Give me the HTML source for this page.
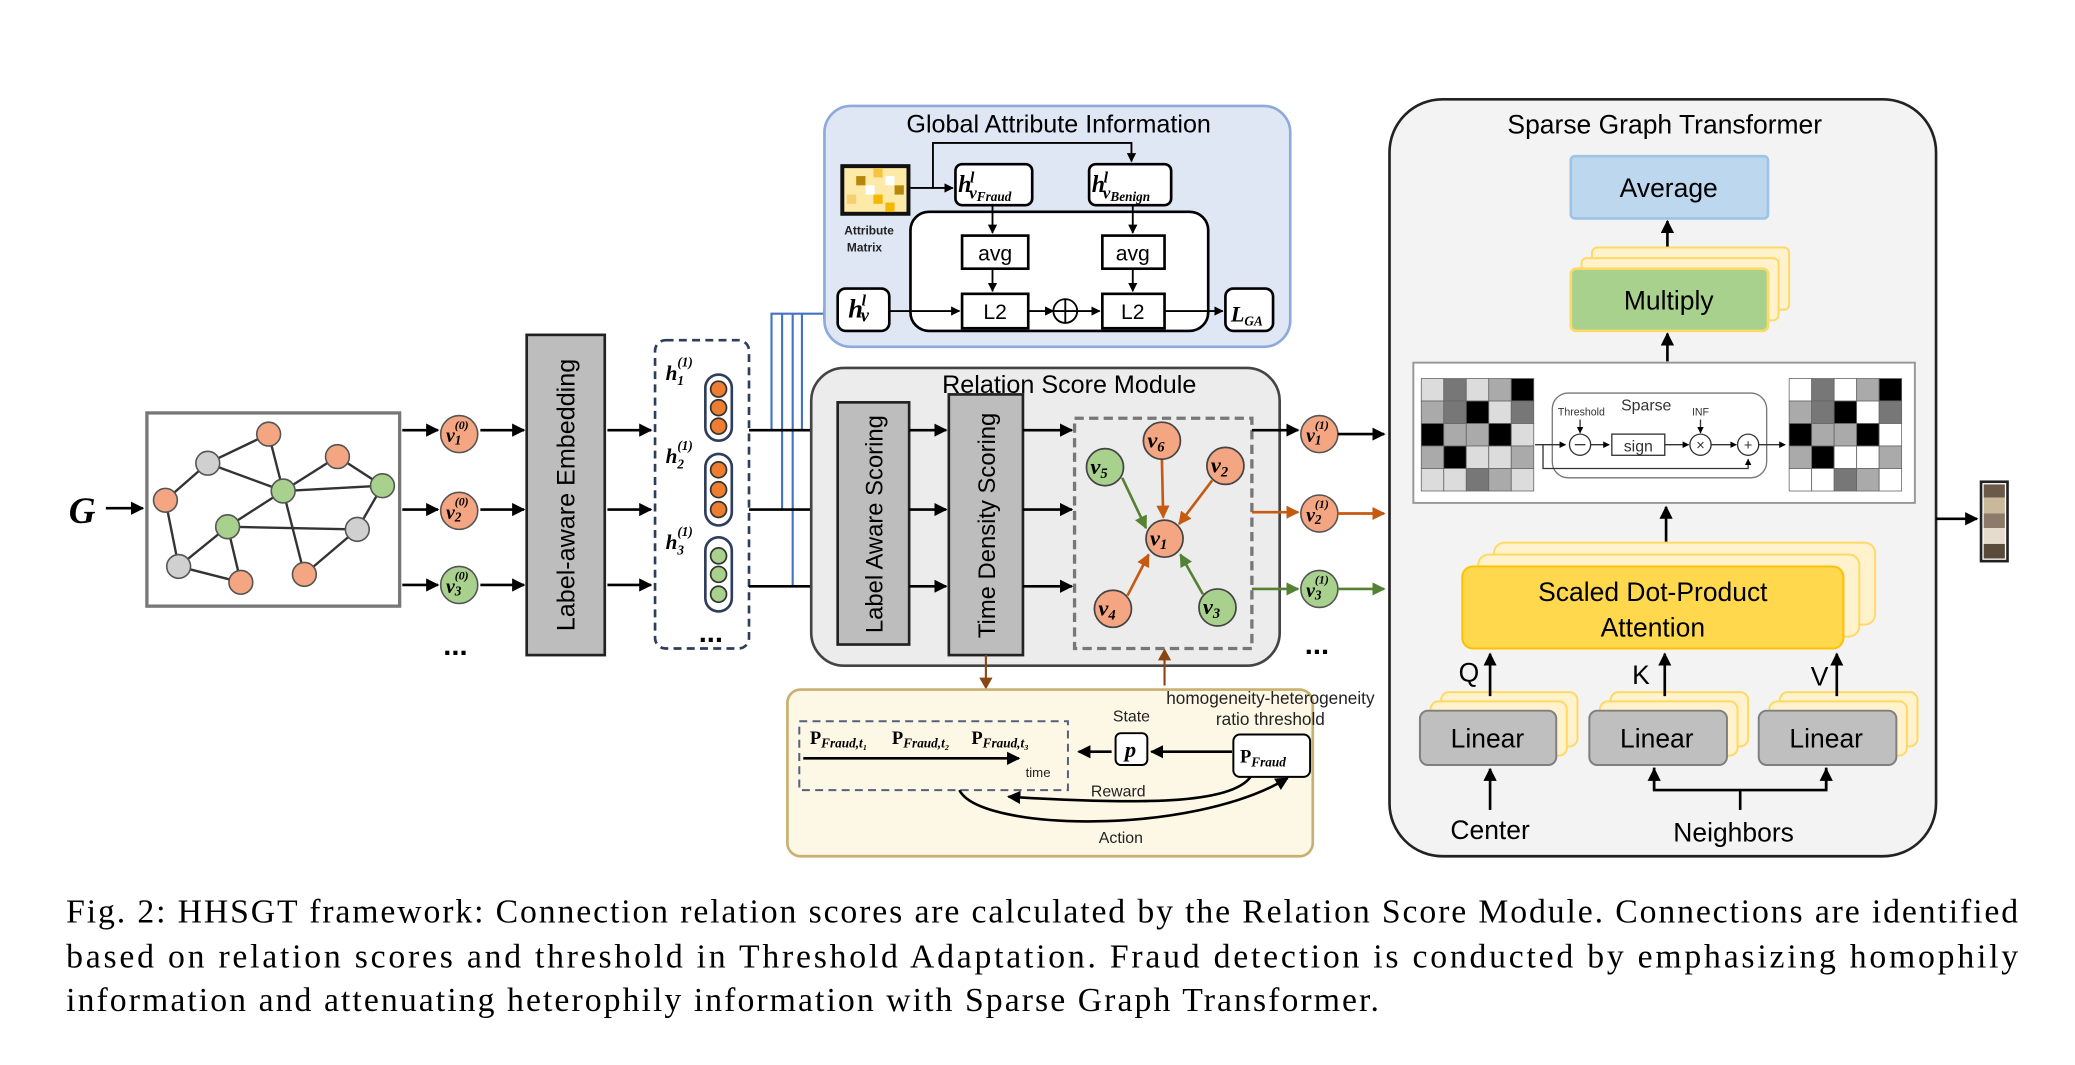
<!DOCTYPE html>
<html><head><meta charset="utf-8"><style>html,body{margin:0;padding:0;background:#fff}svg{display:block}</style></head><body>
<svg width="2075" height="1065" viewBox="0 0 1568 804.7" xmlns="http://www.w3.org/2000/svg" font-family="Liberation Sans, sans-serif">
<defs>
<marker id="a" viewBox="0 0 10 10" refX="9" refY="5" markerWidth="5" markerHeight="5" orient="auto"><path d="M0,0L10,5L0,10z" fill="#000"/></marker>
<marker id="ao" viewBox="0 0 10 10" refX="9" refY="5" markerWidth="5" markerHeight="5" orient="auto"><path d="M0,0L10,5L0,10z" fill="#c55a11"/></marker>
<marker id="ag" viewBox="0 0 10 10" refX="9" refY="5" markerWidth="5" markerHeight="5" orient="auto"><path d="M0,0L10,5L0,10z" fill="#548235"/></marker>
<marker id="ab" viewBox="0 0 10 10" refX="9" refY="5" markerWidth="5" markerHeight="5" orient="auto"><path d="M0,0L10,5L0,10z" fill="#4472c4"/></marker>
</defs>
<g stroke="#000" stroke-width="2" fill="none">
<text x="52" y="395" font-family="Liberation Serif, serif" font-size="28" font-weight="bold" font-style="italic" fill="#000" stroke="none">G</text>
<line x1="80" y1="384" x2="108" y2="384" marker-end="url(#a)"/>
<rect x="111" y="312" width="191" height="146" stroke="#777" stroke-width="2.5"/>
<g stroke="#333" stroke-width="1.8">
<line x1="125" y1="378" x2="157" y2="350"/><line x1="157" y1="350" x2="203" y2="328"/><line x1="157" y1="350" x2="214" y2="371"/><line x1="203" y1="328" x2="214" y2="371"/><line x1="214" y1="371" x2="255" y2="345"/><line x1="214" y1="371" x2="289" y2="367"/><line x1="214" y1="371" x2="172" y2="398"/><line x1="214" y1="371" x2="230" y2="434"/><line x1="125" y1="378" x2="135" y2="428"/><line x1="135" y1="428" x2="172" y2="398"/><line x1="172" y1="398" x2="182" y2="440"/><line x1="172" y1="398" x2="270" y2="400"/><line x1="270" y1="400" x2="289" y2="367"/><line x1="270" y1="400" x2="230" y2="434"/><line x1="255" y1="345" x2="289" y2="367"/><line x1="135" y1="428" x2="182" y2="440"/>
</g>
<g stroke="#555" stroke-width="1.2">
<circle cx="203" cy="328" r="9" fill="#f4a582"/><circle cx="255" cy="345" r="9" fill="#f4a582"/><circle cx="125" cy="378" r="9" fill="#f4a582"/><circle cx="182" cy="440" r="9" fill="#f4a582"/><circle cx="230" cy="434" r="9" fill="#f4a582"/>
<circle cx="214" cy="371" r="9" fill="#a9d18e"/><circle cx="289" cy="367" r="9" fill="#a9d18e"/><circle cx="172" cy="398" r="9" fill="#a9d18e"/>
<circle cx="157" cy="350" r="9" fill="#d0d0d0"/><circle cx="135" cy="428" r="9" fill="#d0d0d0"/><circle cx="270" cy="400" r="9" fill="#d0d0d0"/>
</g>
<line x1="304" y1="325" x2="331" y2="325" marker-end="url(#a)"/><line x1="304" y1="385" x2="331" y2="385" marker-end="url(#a)"/><line x1="304" y1="442" x2="331" y2="442" marker-end="url(#a)"/>
<circle cx="347" cy="328" r="14" fill="#f4a582" stroke="#555" stroke-width="1.2"/><circle cx="347" cy="386" r="14" fill="#f4a582" stroke="#555" stroke-width="1.2"/><circle cx="347" cy="442" r="14" fill="#a9d18e" stroke="#555" stroke-width="1.2"/>
<g font-family="Liberation Serif, serif" font-style="italic" font-weight="bold" fill="#000" stroke="none" font-size="15">
<text x="337" y="334">v<tspan font-size="10" dy="2">1</tspan><tspan font-size="9" dy="-12" dx="-5">(0)</tspan></text>
<text x="337" y="392">v<tspan font-size="10" dy="2">2</tspan><tspan font-size="9" dy="-12" dx="-5">(0)</tspan></text>
<text x="337" y="448">v<tspan font-size="10" dy="2">3</tspan><tspan font-size="9" dy="-12" dx="-5">(0)</tspan></text>
</g>
<text x="335" y="495" font-size="22" fill="#000" stroke="none" font-weight="bold">...</text>
<line x1="363" y1="325" x2="396" y2="325" marker-end="url(#a)"/><line x1="363" y1="385" x2="396" y2="385" marker-end="url(#a)"/><line x1="363" y1="442" x2="396" y2="442" marker-end="url(#a)"/>
<rect x="398" y="253" width="59" height="242" fill="#bdbdbd" stroke="#222"/>
<text transform="translate(434,374) rotate(-90)" text-anchor="middle" font-size="19" fill="#000" stroke="none">Label-aware Embedding</text>
<line x1="459" y1="325" x2="492" y2="325" marker-end="url(#a)"/><line x1="459" y1="385" x2="492" y2="385" marker-end="url(#a)"/><line x1="459" y1="442" x2="492" y2="442" marker-end="url(#a)"/>
<rect x="495" y="257" width="71" height="233" rx="8" stroke="#2f3d5c" stroke-dasharray="6,4"/>
<g stroke="#2f3d5c" stroke-width="2">
<rect x="533" y="283" width="20" height="50" rx="10" fill="#fff"/><rect x="533" y="343" width="20" height="54" rx="10" fill="#fff"/><rect x="533" y="406" width="20" height="56" rx="10" fill="#fff"/>
</g>
<g stroke="#333" stroke-width="1.3">
<circle cx="543" cy="294" r="6" fill="#ed7d31"/><circle cx="543" cy="308" r="6" fill="#ed7d31"/><circle cx="543" cy="322" r="6" fill="#ed7d31"/>
<circle cx="543" cy="355" r="6" fill="#ed7d31"/><circle cx="543" cy="370" r="6" fill="#ed7d31"/><circle cx="543" cy="385" r="6" fill="#ed7d31"/>
<circle cx="543" cy="420" r="6" fill="#a9d18e"/><circle cx="543" cy="434" r="6" fill="#a9d18e"/><circle cx="543" cy="449" r="6" fill="#a9d18e"/>
</g>
<g font-family="Liberation Serif, serif" font-style="italic" font-weight="bold" fill="#000" stroke="none" font-size="16">
<text x="503" y="287">h<tspan font-size="10" dy="4">1</tspan><tspan font-size="10" dy="-14" dx="-5">(1)</tspan></text>
<text x="503" y="350">h<tspan font-size="10" dy="4">2</tspan><tspan font-size="10" dy="-14" dx="-5">(1)</tspan></text>
<text x="503" y="415">h<tspan font-size="10" dy="4">3</tspan><tspan font-size="10" dy="-14" dx="-5">(1)</tspan></text>
</g>
<text x="528" y="485" font-size="22" fill="#000" stroke="none" font-weight="bold">...</text>
<g stroke="#4472c4" stroke-width="1.6">
<polyline points="583,325 583,237 629,237" marker-end="url(#ab)"/><polyline points="591,385 591,237"/><polyline points="599,443 599,237"/><line x1="606" y1="237" x2="606" y2="325"/>
</g>
<line x1="566" y1="325" x2="630" y2="325" marker-end="url(#a)"/><line x1="566" y1="385" x2="630" y2="385" marker-end="url(#a)"/><line x1="566" y1="443" x2="630" y2="443" marker-end="url(#a)"/>
<rect x="623" y="80" width="352" height="182" rx="20" fill="#dfe7f4" stroke="#8eaadb" stroke-width="2"/>
<text x="800" y="100" text-anchor="middle" font-size="19" fill="#000" stroke="none">Global Attribute Information</text>
<rect x="688" y="160" width="225" height="90" rx="14" fill="#fff"/>
<g stroke="none">
<rect x="635" y="124" width="53" height="39" fill="#111"/>
<rect x="638" y="127" width="47" height="33" fill="#fde9a8"/>
<rect x="647" y="133" width="7" height="7" fill="#b8860b"/><rect x="660" y="127" width="7" height="7" fill="#f5c542"/><rect x="676" y="140" width="7" height="7" fill="#b8860b"/><rect x="660" y="147" width="7" height="7" fill="#f5b800"/><rect x="640" y="147" width="7" height="7" fill="#f5d070"/><rect x="669" y="153" width="7" height="7" fill="#f5b800"/><rect x="654" y="140" width="7" height="7" fill="#fff"/><rect x="669" y="133" width="7" height="7" fill="#fff"/>
</g>
<text x="638" y="177" font-size="9" fill="#222" stroke="none" font-weight="bold">Attribute</text>
<text x="640" y="190" font-size="9" fill="#222" stroke="none" font-weight="bold">Matrix</text>
<polyline points="688,142 705,142 705,108 855,108 855,122" stroke-width="1.4" marker-end="url(#a)"/>
<line x1="705" y1="142" x2="720" y2="142" stroke-width="1.4" marker-end="url(#a)"/>
<rect x="722" y="124" width="58" height="31" rx="5" fill="#fff"/>
<rect x="823" y="124" width="62" height="31" rx="5" fill="#fff"/>
<rect x="633" y="218" width="39" height="32" rx="6" fill="#fff"/><rect x="926" y="218" width="36" height="32" rx="6" fill="#fff"/>
<g font-family="Liberation Serif, serif" font-style="italic" font-weight="bold" fill="#000" stroke="none">
<text x="724" y="145" font-size="18">h<tspan font-size="12" dy="-7" dx="-1">l</tspan><tspan font-size="13" dy="12" dx="-4">v</tspan><tspan font-size="10" dy="2">Fraud</tspan></text>
<text x="825" y="145" font-size="18">h<tspan font-size="12" dy="-7" dx="-1">l</tspan><tspan font-size="13" dy="12" dx="-4">v</tspan><tspan font-size="10" dy="2">Benign</tspan></text>
<text x="641" y="240" font-size="20">h<tspan font-size="12" dy="-9" dx="-1">l</tspan><tspan font-size="14" dy="12" dx="-4">v</tspan></text>
<text x="930" y="243" font-size="17">L<tspan font-size="10" dy="3">GA</tspan></text>
</g>
<line x1="750" y1="155" x2="750" y2="176" stroke-width="1.4" marker-end="url(#a)"/><line x1="856" y1="155" x2="856" y2="176" stroke-width="1.4" marker-end="url(#a)"/>
<rect x="727" y="178" width="50" height="25" fill="#fff"/><rect x="833" y="178" width="47" height="25" fill="#fff"/>
<text x="752" y="197" text-anchor="middle" font-size="16" fill="#000" stroke="none">avg</text><text x="856" y="197" text-anchor="middle" font-size="16" fill="#000" stroke="none">avg</text>
<line x1="750" y1="203" x2="750" y2="220" stroke-width="1.4" marker-end="url(#a)"/><line x1="856" y1="203" x2="856" y2="220" stroke-width="1.4" marker-end="url(#a)"/>
<rect x="727" y="222" width="50" height="26" fill="#fff"/><rect x="833" y="222" width="47" height="26" fill="#fff"/>
<text x="752" y="241" text-anchor="middle" font-size="16" fill="#000" stroke="none">L2</text><text x="856" y="241" text-anchor="middle" font-size="16" fill="#000" stroke="none">L2</text>
<line x1="672" y1="235" x2="725" y2="235" stroke-width="1.4" marker-end="url(#a)"/>
<line x1="777" y1="235" x2="796" y2="235" stroke-width="1.4" marker-end="url(#a)"/>
<circle cx="805" cy="235" r="9" stroke-width="1.4"/><line x1="796" y1="235" x2="814" y2="235" stroke-width="1.4"/><line x1="805" y1="226" x2="805" y2="244" stroke-width="1.4"/>
<line x1="814" y1="235" x2="831" y2="235" stroke-width="1.4" marker-end="url(#a)"/>
<line x1="880" y1="235" x2="924" y2="235" stroke-width="1.4" marker-end="url(#a)"/>
<rect x="613" y="278" width="354" height="225" rx="25" fill="#ececec" stroke="#444"/>
<text x="808" y="297" text-anchor="middle" font-size="19" fill="#000" stroke="none">Relation Score Module</text>
<rect x="633" y="304" width="54" height="183" fill="#bdbdbd" stroke="#222"/>
<text transform="translate(667,396) rotate(-90)" text-anchor="middle" font-size="18" fill="#000" stroke="none">Label Aware Scoring</text>
<rect x="717" y="298" width="56" height="197" fill="#bdbdbd" stroke="#222"/>
<text transform="translate(752,397) rotate(-90)" text-anchor="middle" font-size="18" fill="#000" stroke="none">Time Density Scoring</text>
<line x1="687" y1="325" x2="715" y2="325" marker-end="url(#a)"/><line x1="687" y1="385" x2="715" y2="385" marker-end="url(#a)"/><line x1="687" y1="443" x2="715" y2="443" marker-end="url(#a)"/>
<line x1="773" y1="325" x2="810" y2="325" marker-end="url(#a)"/><line x1="773" y1="385" x2="810" y2="385" marker-end="url(#a)"/><line x1="773" y1="443" x2="810" y2="443" marker-end="url(#a)"/>
<rect x="812" y="316" width="134" height="174" stroke="#777" stroke-width="2.5" stroke-dasharray="7,4"/>
<g stroke-width="2">
<line x1="878" y1="347" x2="879" y2="391" stroke="#c55a11" marker-end="url(#ao)"/>
<line x1="916" y1="363" x2="891" y2="396" stroke="#c55a11" marker-end="url(#ao)"/>
<line x1="852" y1="450" x2="868" y2="419" stroke="#c55a11" marker-end="url(#ao)"/>
<line x1="848" y1="361" x2="866" y2="399" stroke="#548235" marker-end="url(#ag)"/>
<line x1="909" y1="449" x2="892" y2="419" stroke="#548235" marker-end="url(#ag)"/>
</g>
<g stroke="#444" stroke-width="1.3">
<circle cx="880" cy="407" r="14" fill="#f4a582"/><circle cx="878" cy="333" r="14" fill="#f4a582"/><circle cx="926" cy="352" r="14" fill="#f4a582"/><circle cx="841" cy="460" r="14" fill="#f4a582"/>
<circle cx="835" cy="353" r="14" fill="#a9d18e"/><circle cx="920" cy="459" r="14" fill="#a9d18e"/>
</g>
<g font-family="Liberation Serif, serif" font-style="italic" font-weight="bold" fill="#000" stroke="none" font-size="17">
<text x="869" y="412">v<tspan font-size="11" dy="3">1</tspan></text><text x="867" y="338">v<tspan font-size="11" dy="3">6</tspan></text><text x="915" y="357">v<tspan font-size="11" dy="3">2</tspan></text><text x="830" y="465">v<tspan font-size="11" dy="3">4</tspan></text><text x="824" y="358">v<tspan font-size="11" dy="3">5</tspan></text><text x="909" y="464">v<tspan font-size="11" dy="3">3</tspan></text>
</g>
<line x1="946" y1="325" x2="981" y2="325" marker-end="url(#a)"/>
<line x1="946" y1="387" x2="981" y2="387" stroke="#c55a11" marker-end="url(#ao)"/>
<line x1="946" y1="445" x2="981" y2="445" stroke="#548235" marker-end="url(#ag)"/>
<circle cx="997" cy="328" r="14" fill="#f4a582" stroke="#555" stroke-width="1.2"/><circle cx="997" cy="388" r="14" fill="#f4a582" stroke="#555" stroke-width="1.2"/><circle cx="997" cy="445" r="14" fill="#a9d18e" stroke="#555" stroke-width="1.2"/>
<g font-family="Liberation Serif, serif" font-style="italic" font-weight="bold" fill="#000" stroke="none" font-size="15">
<text x="987" y="334">v<tspan font-size="10" dy="2">1</tspan><tspan font-size="9" dy="-12" dx="-5">(1)</tspan></text>
<text x="987" y="394">v<tspan font-size="10" dy="2">2</tspan><tspan font-size="9" dy="-12" dx="-5">(1)</tspan></text>
<text x="987" y="451">v<tspan font-size="10" dy="2">3</tspan><tspan font-size="9" dy="-12" dx="-5">(1)</tspan></text>
</g>
<text x="986" y="494" font-size="22" fill="#000" stroke="none" font-weight="bold">...</text>
<line x1="1011" y1="328" x2="1046" y2="328" marker-end="url(#a)"/>
<line x1="1011" y1="388" x2="1046" y2="388" stroke="#c55a11" marker-end="url(#ao)"/>
<line x1="1011" y1="445" x2="1046" y2="445" stroke="#548235" marker-end="url(#ag)"/>
<line x1="745" y1="495" x2="745" y2="518" stroke="#8b4513" stroke-width="1.6"/><path d="M740,512 L745,521 L750,512z" fill="#8b4513" stroke="none"/>
<line x1="880" y1="493" x2="880" y2="518" stroke="#8b4513" stroke-width="1.6"/><path d="M875,499 L880,490 L885,499z" fill="#8b4513" stroke="none"/>
<rect x="595" y="521" width="397" height="126" rx="10" fill="#fdf8e6" stroke="#c8b070" stroke-width="2"/>
<text x="960" y="532" text-anchor="middle" font-size="13" fill="#222" stroke="none">homogeneity-heterogeneity</text>
<text x="960" y="548" text-anchor="middle" font-size="13" fill="#222" stroke="none">ratio threshold</text>
<rect x="604" y="545" width="203" height="52" stroke="#56607a" stroke-width="1.5" stroke-dasharray="6,4"/>
<rect x="843" y="554" width="24" height="24" rx="4" fill="#fff" stroke-width="1.5"/>
<rect x="932" y="555" width="58" height="32" rx="5" fill="#fff" stroke-width="1.5"/>
<g font-family="Liberation Serif, serif" font-weight="bold" fill="#000" stroke="none" font-size="14">
<text x="612" y="562">P<tspan font-size="10" font-style="italic" dy="3">Fraud,t₁</tspan></text>
<text x="674" y="562">P<tspan font-size="10" font-style="italic" dy="3">Fraud,t₂</tspan></text>
<text x="734" y="562">P<tspan font-size="10" font-style="italic" dy="3">Fraud,t₃</tspan></text>
<text x="850" y="572" font-style="italic" font-size="17">p</text>
<text x="937" y="576">P<tspan font-size="10" font-style="italic" dy="3">Fraud</tspan></text>
</g>
<line x1="607" y1="573" x2="770" y2="573" stroke-width="2" marker-end="url(#a)"/>
<text x="775" y="587" font-size="10" fill="#222" stroke="none">time</text>
<text x="855" y="545" text-anchor="middle" font-size="12" fill="#222" stroke="none">State</text>
<line x1="931" y1="568" x2="870" y2="568" stroke-width="2" marker-end="url(#a)"/>
<line x1="840" y1="568" x2="815" y2="568" stroke-width="2" marker-end="url(#a)"/>
<path d="M945,587 C930,608 860,608 762,602" stroke-width="2" marker-end="url(#a)"/>
<path d="M725,597 C740,628 900,632 973,588" stroke-width="2" marker-end="url(#a)"/>
<text x="845" y="602" text-anchor="middle" font-size="12" fill="#222" stroke="none">Reward</text>
<text x="847" y="637" text-anchor="middle" font-size="12" fill="#222" stroke="none">Action</text>
<rect x="1050" y="75" width="413" height="572" rx="40" fill="#f3f3f3" stroke="#222" stroke-width="2"/>
<text x="1258" y="101" text-anchor="middle" font-size="20" fill="#000" stroke="none">Sparse Graph Transformer</text>
<rect x="1187" y="118" width="149" height="47" rx="3" fill="#bdd7ee" stroke="#9dc3e6"/>
<text x="1261" y="149" text-anchor="middle" font-size="20" fill="#000" stroke="none">Average</text>
<line x1="1260" y1="188" x2="1260" y2="167" marker-end="url(#a)"/>
<rect x="1203" y="187" width="149" height="47" rx="4" fill="#fff2cc" stroke="#ffd966" stroke-width="1.5"/>
<rect x="1195" y="195" width="149" height="47" rx="4" fill="#fff2cc" stroke="#ffd966" stroke-width="1.5"/>
<rect x="1187" y="203" width="149" height="47" rx="4" fill="#a9d18e" stroke="#ffd966" stroke-width="2"/>
<text x="1261" y="234" text-anchor="middle" font-size="20" fill="#000" stroke="none">Multiply</text>
<line x1="1260" y1="273" x2="1260" y2="252" marker-end="url(#a)"/>
<rect x="1068" y="274" width="379" height="106" fill="#fff" stroke="#999" stroke-width="1.5"/>
</g>
<g stroke="#666" stroke-width="0.6">
<rect x="1074" y="286" width="17" height="17" fill="#dcdcdc"/><rect x="1091" y="286" width="17" height="17" fill="#777"/><rect x="1108" y="286" width="17" height="17" fill="#dcdcdc"/><rect x="1125" y="286" width="17" height="17" fill="#aaa"/><rect x="1142" y="286" width="17" height="17" fill="#000"/>
<rect x="1074" y="303" width="17" height="17" fill="#aaa"/><rect x="1091" y="303" width="17" height="17" fill="#777"/><rect x="1108" y="303" width="17" height="17" fill="#000"/><rect x="1125" y="303" width="17" height="17" fill="#dcdcdc"/><rect x="1142" y="303" width="17" height="17" fill="#777"/>
<rect x="1074" y="320" width="17" height="17" fill="#000"/><rect x="1091" y="320" width="17" height="17" fill="#aaa"/><rect x="1108" y="320" width="17" height="17" fill="#aaa"/><rect x="1125" y="320" width="17" height="17" fill="#000"/><rect x="1142" y="320" width="17" height="17" fill="#dcdcdc"/>
<rect x="1074" y="337" width="17" height="17" fill="#aaa"/><rect x="1091" y="337" width="17" height="17" fill="#000"/><rect x="1108" y="337" width="17" height="17" fill="#dcdcdc"/><rect x="1125" y="337" width="17" height="17" fill="#dcdcdc"/><rect x="1142" y="337" width="17" height="17" fill="#aaa"/>
<rect x="1074" y="354" width="17" height="17" fill="#dcdcdc"/><rect x="1091" y="354" width="17" height="17" fill="#dcdcdc"/><rect x="1108" y="354" width="17" height="17" fill="#777"/><rect x="1125" y="354" width="17" height="17" fill="#aaa"/><rect x="1142" y="354" width="17" height="17" fill="#dcdcdc"/>
</g>
<g stroke="#666" stroke-width="0.6">
<rect x="1352" y="286" width="17" height="17" fill="#fff"/><rect x="1369" y="286" width="17" height="17" fill="#777"/><rect x="1386" y="286" width="17" height="17" fill="#fff"/><rect x="1403" y="286" width="17" height="17" fill="#aaa"/><rect x="1420" y="286" width="17" height="17" fill="#000"/>
<rect x="1352" y="303" width="17" height="17" fill="#aaa"/><rect x="1369" y="303" width="17" height="17" fill="#777"/><rect x="1386" y="303" width="17" height="17" fill="#000"/><rect x="1403" y="303" width="17" height="17" fill="#fff"/><rect x="1420" y="303" width="17" height="17" fill="#777"/>
<rect x="1352" y="320" width="17" height="17" fill="#000"/><rect x="1369" y="320" width="17" height="17" fill="#aaa"/><rect x="1386" y="320" width="17" height="17" fill="#aaa"/><rect x="1403" y="320" width="17" height="17" fill="#000"/><rect x="1420" y="320" width="17" height="17" fill="#fff"/>
<rect x="1352" y="337" width="17" height="17" fill="#aaa"/><rect x="1369" y="337" width="17" height="17" fill="#000"/><rect x="1386" y="337" width="17" height="17" fill="#fff"/><rect x="1403" y="337" width="17" height="17" fill="#fff"/><rect x="1420" y="337" width="17" height="17" fill="#aaa"/>
<rect x="1352" y="354" width="17" height="17" fill="#fff"/><rect x="1369" y="354" width="17" height="17" fill="#fff"/><rect x="1386" y="354" width="17" height="17" fill="#777"/><rect x="1403" y="354" width="17" height="17" fill="#aaa"/><rect x="1420" y="354" width="17" height="17" fill="#fff"/>
</g>
<g stroke="#333" stroke-width="1" fill="none">
<rect x="1173" y="297" width="162" height="64" rx="12" stroke="#777"/>
<text x="1244" y="310" text-anchor="middle" font-size="12" fill="#333" stroke="none">Sparse</text>
<text x="1195" y="314" text-anchor="middle" font-size="8" fill="#333" stroke="none">Threshold</text>
<text x="1285" y="314" text-anchor="middle" font-size="8" fill="#333" stroke="none">INF</text>
<line x1="1160" y1="336" x2="1183" y2="336" marker-end="url(#a)"/>
<polyline points="1166,336 1166,354 1321,354 1321,347" marker-end="url(#a)"/>
<circle cx="1194" cy="336" r="8"/><line x1="1190" y1="336" x2="1198" y2="336"/>
<line x1="1194" y1="317" x2="1194" y2="327" marker-end="url(#a)"/>
<line x1="1202" y1="336" x2="1216" y2="336" marker-end="url(#a)"/>
<rect x="1218" y="328" width="40" height="16"/>
<text x="1238" y="341" text-anchor="middle" font-size="12" fill="#333" stroke="none">sign</text>
<line x1="1258" y1="336" x2="1276" y2="336" marker-end="url(#a)"/>
<circle cx="1285" cy="336" r="8"/><text x="1285" y="340" text-anchor="middle" font-size="11" fill="#333" stroke="none">×</text>
<line x1="1285" y1="317" x2="1285" y2="327" marker-end="url(#a)"/>
<line x1="1293" y1="336" x2="1312" y2="336" marker-end="url(#a)"/>
<circle cx="1321" cy="336" r="8"/><text x="1321" y="340" text-anchor="middle" font-size="11" fill="#333" stroke="none">+</text>
<line x1="1329" y1="336" x2="1349" y2="336" marker-end="url(#a)"/>
</g>
<g stroke="#000" stroke-width="2" fill="none">
<line x1="1259" y1="412" x2="1259" y2="383" marker-end="url(#a)"/>
<rect x="1129" y="410" width="288" height="62" rx="8" fill="#fff2cc" stroke="#ffd966" stroke-width="1.5"/>
<rect x="1117" y="419" width="288" height="62" rx="8" fill="#fff2cc" stroke="#ffd966" stroke-width="1.5"/>
<rect x="1105" y="428" width="288" height="62" rx="8" fill="#ffd84d" stroke="#ffc000" stroke-width="1.5"/>
<text x="1249" y="454" text-anchor="middle" font-size="20" fill="#000" stroke="none">Scaled Dot-Product</text>
<text x="1249" y="481" text-anchor="middle" font-size="20" fill="#000" stroke="none">Attention</text>
<g fill="#fff2cc" stroke="#ffd966" stroke-width="1.5">
<rect x="1089" y="523" width="103" height="41" rx="6"/><rect x="1081" y="530" width="103" height="41" rx="6"/>
<rect x="1217" y="523" width="104" height="41" rx="6"/><rect x="1209" y="530" width="104" height="41" rx="6"/>
<rect x="1345" y="523" width="104" height="41" rx="6"/><rect x="1337" y="530" width="104" height="41" rx="6"/>
</g>
<g fill="#bfbfbf" stroke="#7f7f7f" stroke-width="1.5">
<rect x="1073" y="537" width="103" height="41" rx="6"/><rect x="1201" y="537" width="104" height="41" rx="6"/><rect x="1329" y="537" width="104" height="41" rx="6"/>
</g>
<g font-size="20" fill="#000" stroke="none" text-anchor="middle">
<text x="1124" y="565">Linear</text><text x="1252" y="565">Linear</text><text x="1380" y="565">Linear</text>
<text x="1110" y="515">Q</text><text x="1240" y="517">K</text><text x="1375" y="518">V</text>
<text x="1126" y="634">Center</text><text x="1310" y="636">Neighbors</text>
</g>
<line x1="1126" y1="526" x2="1126" y2="494" marker-end="url(#a)"/>
<line x1="1258" y1="526" x2="1258" y2="494" marker-end="url(#a)"/>
<line x1="1388" y1="526" x2="1388" y2="494" marker-end="url(#a)"/>
<line x1="1126" y1="612" x2="1126" y2="581" marker-end="url(#a)"/>
<line x1="1315" y1="612" x2="1315" y2="597"/>
<polyline points="1250,580 1250,597 1380,597 1380,580"/>
<line x1="1250" y1="597" x2="1250" y2="581" marker-end="url(#a)"/><line x1="1380" y1="597" x2="1380" y2="581" marker-end="url(#a)"/>
<line x1="1463" y1="392" x2="1494" y2="392" marker-end="url(#a)"/>
<rect x="1497" y="364" width="20" height="60" fill="#fff" stroke="#222" stroke-width="2"/>
</g>
<g stroke="none">
<rect x="1499" y="366" width="16" height="10" fill="#6b5a4a"/><rect x="1499" y="376" width="16" height="12" fill="#c9b89a"/><rect x="1499" y="388" width="16" height="11" fill="#8c7a6a"/><rect x="1499" y="399" width="16" height="12" fill="#e6dccd"/><rect x="1499" y="411" width="16" height="11" fill="#5a4a3a"/>
</g>
<g font-family="Liberation Serif, serif" font-size="25.5" fill="#000">
<text x="50" y="697" textLength="1475" lengthAdjust="spacing">Fig. 2: HHSGT framework: Connection relation scores are calculated by the Relation Score Module. Connections are identified</text>
<text x="50" y="731" textLength="1475" lengthAdjust="spacing">based on relation scores and threshold in Threshold Adaptation. Fraud detection is conducted by emphasizing homophily</text>
<text x="50" y="764" textLength="992" lengthAdjust="spacing">information and attenuating heterophily information with Sparse Graph Transformer.</text>
</g>
</svg>
</body></html>
